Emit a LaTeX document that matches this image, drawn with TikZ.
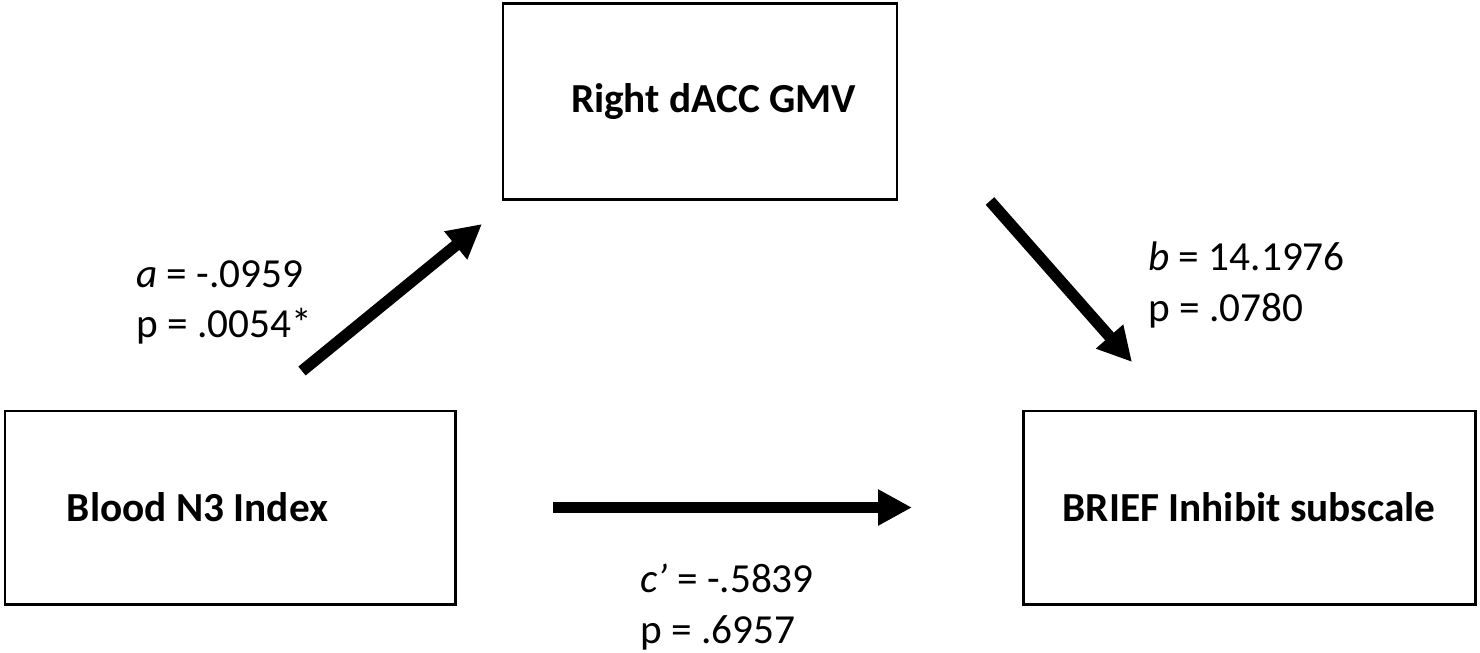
\documentclass[tikz,border=0pt]{standalone}
\usepackage{fontspec}
\setmainfont{Carlito}
\usetikzlibrary{arrows.meta, calc, positioning}

\tikzset{
  varbox/.style={draw, line width=1.7pt, minimum height=3.86cm, font=\fontsize{23.5}{28.5}\selectfont\bfseries},
  stat/.style={anchor=west, align=left, inner sep=0pt, font=\fontsize{23.5}{28.5}\selectfont},
  effect/.style={line width=0.23cm, -{Triangle[length=0.68cm, width=0.68cm]}}
}

\begin{document}
\begin{tikzpicture}
    \useasboundingbox (0,0) rectangle (29.6,13.04);

    % Predictor
    \node [varbox, minimum width=9cm] (blood) at (4.6,2.89) {Blood N3 Index\hspace*{1.3cm}};

    % Outcome
    \node [varbox, minimum width=9.04cm, right=11.30cm of blood] (brief) {BRIEF Inhibit subscale};

    % Mediator
    \node [varbox, minimum width=7.88cm, minimum height=3.92cm, above right=4.18cm and 0.90cm of blood] (dacc) {\hspace*{0.54cm}Right dACC GMV};

    % Arrow ends
    \coordinate (a_tail) at ($(blood.north)+(1.44,0.77)$);
    \coordinate (a_tip) at ($(dacc.south west)+(-0.39,-0.47)$);
    \coordinate (b_tail) at ($(dacc.south east)+(1.83,-0.01)$);
    \coordinate (b_tip) at ($(brief.north west)+(2.21,0.95)$);
    \coordinate (c_tail) at ($(blood.east)+(1.93,0)$);
    \coordinate (c_tip) at ($(brief.west)+(-2.19,0)$);

    % Paths
    \draw [effect] (a_tail) -- (a_tip);
    \draw [effect] (b_tail) -- (b_tip);
    \draw [effect] (c_tail) -- (c_tip);

    % Coefficients
    \node [stat] (lbl_a) at (2.72,7.0) {\textit{a} = -.0959\\p = .0054*};
    \node [stat] (lbl_b) at (22.96,7.34) {\textit{b} = 14.1976\\p = .0780};
    \node [stat] (lbl_c) at (12.8,0.9) {\textit{c’} = -.5839\\p = .6957};

\end{tikzpicture}
\end{document}
